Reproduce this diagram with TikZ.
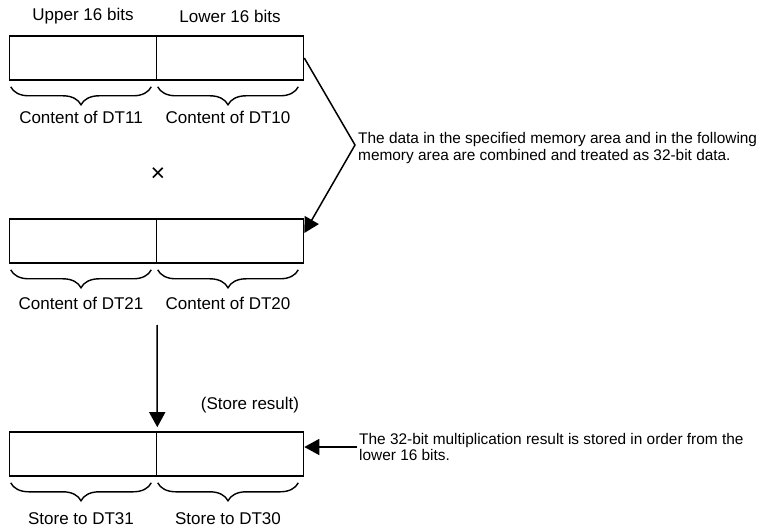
\documentclass[tikz,border=0pt]{standalone}
\usepackage{fontspec}
\setmainfont{Liberation Sans}
\usetikzlibrary{arrows.meta,decorations.pathreplacing}

\begin{document}
\begin{tikzpicture}[x=1pt,y=-1pt,
    cell/.style={draw,line width=1.6pt,minimum width=147pt,minimum height=44pt,inner sep=0pt},
    brc/.style={decorate,decoration={brace,mirror,amplitude=18pt},line width=1.4pt},
    lbl/.style={font=\fontsize{17}{20}\selectfont,inner sep=0pt},
    note/.style={font=\fontsize{15.4}{16.5}\selectfont,align=left,inner sep=0pt,anchor=west},
    arr/.style={line width=1.5pt,-{Triangle[length=15pt,width=16pt]}}]

\useasboundingbox (0,0) rectangle (760,529);

% first operand
\node[cell] (hi1) at (83,58) {};
\node[cell] (lo1) at (230,58) {};
\node[lbl] (up) at ([yshift=19pt]hi1.north) {Upper 16 bits};
\node[lbl] (dn) at ([yshift=19pt]lo1.north) {Lower 16 bits};
\draw[brc] ([xshift=2pt,yshift=-6pt]hi1.south west) -- ([xshift=-6pt,yshift=-6pt]hi1.south east)
    node[lbl,midway,yshift=-31pt] (c11) {Content of DT11};
\draw[brc] ([xshift=2pt,yshift=-6pt]lo1.south west) -- ([xshift=-6pt,yshift=-6pt]lo1.south east)
    node[lbl,midway,yshift=-31pt] (c10) {Content of DT10};

\node[lbl,font=\fontsize{25}{25}\selectfont] (times) at (158,175) {×};

% second operand
\node[cell] (hi2) at (83,241) {};
\node[cell] (lo2) at (230,241) {};
\draw[brc] ([xshift=2pt,yshift=-6pt]hi2.south west) -- ([xshift=-6pt,yshift=-6pt]hi2.south east)
    node[lbl,midway,yshift=-34pt] (c21) {Content of DT21};
\draw[brc] ([xshift=2pt,yshift=-6pt]lo2.south west) -- ([xshift=-6pt,yshift=-6pt]lo2.south east)
    node[lbl,midway,yshift=-34pt] (c20) {Content of DT20};

% result
\node[cell] (hi3) at (83,454) {};
\node[cell] (lo3) at (230,454) {};
\draw[brc] ([xshift=2pt,yshift=-6pt]hi3.south west) -- ([xshift=-6pt,yshift=-6pt]hi3.south east)
    node[lbl,midway,yshift=-36pt] (s31) {Store to DT31};
\draw[brc] ([xshift=2pt,yshift=-6pt]lo3.south west) -- ([xshift=-6pt,yshift=-6pt]lo3.south east)
    node[lbl,midway,yshift=-36pt] (s30) {Store to DT30};
\node[lbl] (store) at (250,405) {(Store result)};

% connectors
\coordinate (bend) at (355,145);
\draw[arr] (lo1.east) -- (bend) -- ([yshift=8pt]lo2.east);
\node[note] (n1) at ([xshift=3pt,yshift=-3pt]bend) {The data in the specified memory area and in the following\\memory area are combined and treated as 32-bit data.};

\coordinate (res) at (157,325);
\draw[arr,shorten >=4pt] (res) -- (hi3.north east);

\coordinate (tail) at (357,447);
\draw[arr] (tail) -- (tail -| lo3.east);
\node[note] (n2) at ([xshift=2pt]tail) {The 32-bit multiplication result is stored in order from the\\lower 16 bits.};
\end{tikzpicture}
\end{document}
